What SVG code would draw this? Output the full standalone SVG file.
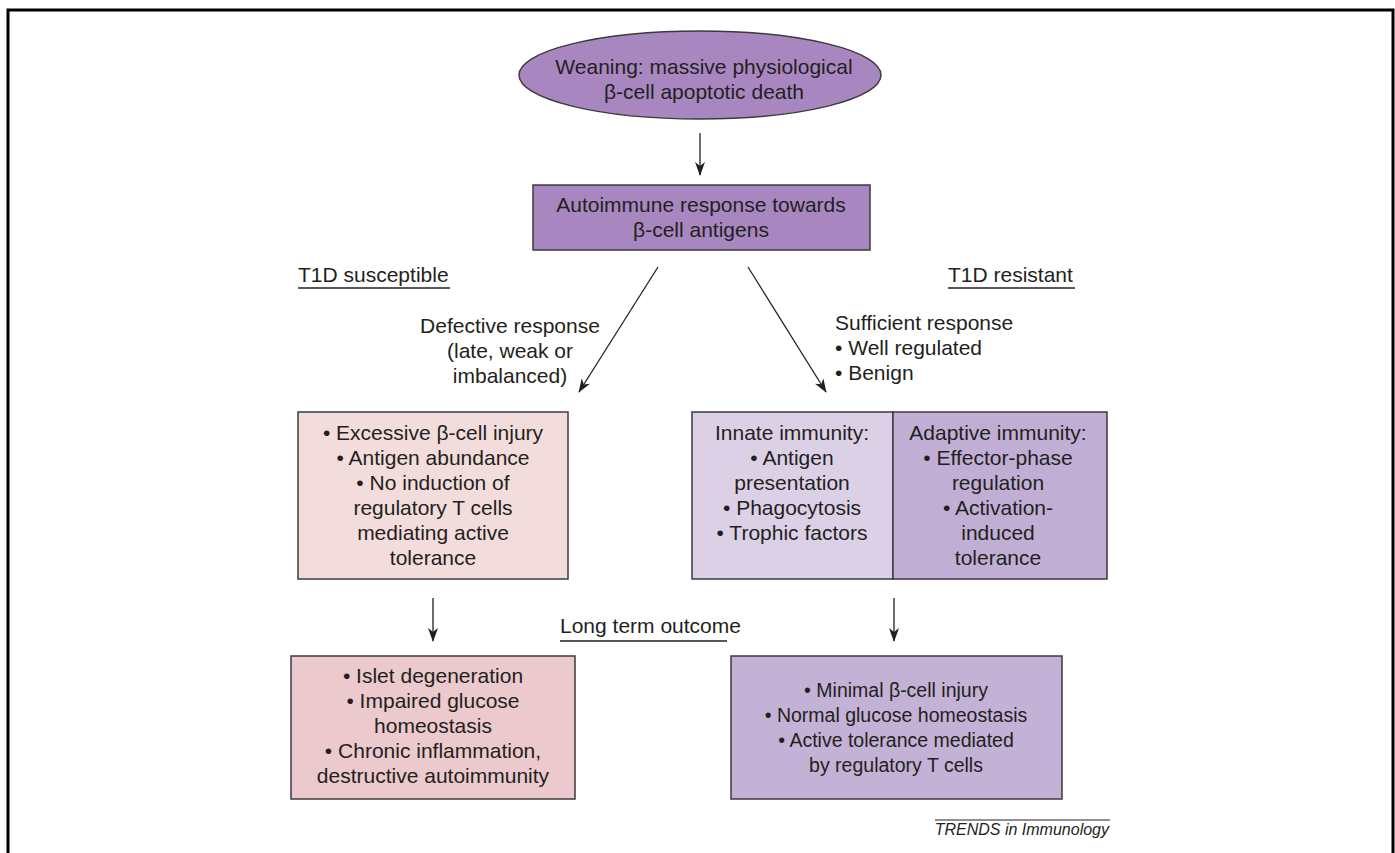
<svg xmlns="http://www.w3.org/2000/svg" width="1395" height="853" viewBox="0 0 1395 853">
<defs>
<style>
text{font-family:"Liberation Sans",Arial,sans-serif;font-size:21px;fill:#231f20}
.c{text-anchor:middle}
.n{font-size:19.5px}
.box{stroke:#3d3a3e;stroke-width:1.5}
.conn{stroke:#231f20;stroke-width:1.3;fill:none;marker-end:url(#ah)}
.ul{stroke:#231f20;stroke-width:1.3}
</style>
<marker id="ah" viewBox="0 0 14 10" refX="13" refY="5" markerWidth="14" markerHeight="10" markerUnits="userSpaceOnUse" orient="auto">
<path d="M0,0 L14,5 L0,10 L4,5 z" fill="#231f20"/>
</marker>
</defs>
<rect x="8" y="10" width="1385" height="900" fill="#fff" stroke="#000" stroke-width="3"/>

<g id="node-weaning">
<ellipse class="box" cx="700" cy="75" rx="181" ry="44" fill="#a887c0"/>
<text class="c" x="704" y="74">Weaning: massive physiological</text>
<text class="c" x="704" y="99">β-cell apoptotic death</text>
</g>

<g id="node-autoimmune">
<rect class="box" x="533" y="185" width="337" height="65" fill="#a887c0"/>
<text class="c" x="701" y="212">Autoimmune response towards</text>
<text class="c" x="701" y="237">β-cell antigens</text>
</g>

<g id="label-susceptible">
<text x="298" y="282">T1D susceptible</text>
<line class="ul" x1="298" y1="288" x2="450" y2="288"/>
</g>
<g id="label-resistant">
<text x="948" y="282">T1D resistant</text>
<line class="ul" x1="948" y1="288" x2="1075" y2="288"/>
</g>

<g id="label-defective">
<text class="c" x="510" y="333">Defective response</text>
<text class="c" x="510" y="358">(late, weak or</text>
<text class="c" x="510" y="383">imbalanced)</text>
</g>
<g id="label-sufficient">
<text x="835" y="330">Sufficient response</text>
<text x="835" y="355">• Well regulated</text>
<text x="835" y="380">• Benign</text>
</g>

<g id="node-susceptible">
<rect class="box" x="298" y="412" width="270" height="167" fill="#f3dcdc"/>
<text class="c" x="433" y="440">• Excessive β-cell injury</text>
<text class="c" x="433" y="465">• Antigen abundance</text>
<text class="c" x="433" y="490">• No induction of</text>
<text class="c" x="433" y="515">regulatory T cells</text>
<text class="c" x="433" y="540">mediating active</text>
<text class="c" x="433" y="565">tolerance</text>
</g>

<g id="node-resistant">
<rect class="box" x="692" y="412" width="201" height="167" fill="#dcd0e7"/>
<rect class="box" x="893" y="412" width="214" height="167" fill="#c1aed4"/>
<text class="c" x="792" y="440">Innate immunity:</text>
<text class="c" x="792" y="465">• Antigen</text>
<text class="c" x="792" y="490">presentation</text>
<text class="c" x="792" y="515">• Phagocytosis</text>
<text class="c" x="792" y="540">• Trophic factors</text>
<text class="c" x="998" y="440">Adaptive immunity:</text>
<text class="c" x="998" y="465">• Effector-phase</text>
<text class="c" x="998" y="490">regulation</text>
<text class="c" x="998" y="515">• Activation-</text>
<text class="c" x="998" y="540">induced</text>
<text class="c" x="998" y="565">tolerance</text>
</g>

<g id="label-longterm">
<text x="560" y="633">Long term outcome</text>
<line class="ul" x1="560" y1="641" x2="727" y2="641"/>
</g>

<g id="node-outcome-bad">
<rect class="box" x="291" y="656" width="284" height="143" fill="#ecc9cd"/>
<text class="c" x="433" y="683">• Islet degeneration</text>
<text class="c" x="433" y="708">• Impaired glucose</text>
<text class="c" x="433" y="733">homeostasis</text>
<text class="c" x="433" y="758">• Chronic inflammation,</text>
<text class="c" x="433" y="783">destructive autoimmunity</text>
</g>

<g id="node-outcome-good">
<rect class="box" x="731" y="656" width="331" height="143" fill="#c4b1d6"/>
<text class="c n" x="896" y="697">• Minimal β-cell injury</text>
<text class="c n" x="896" y="722">• Normal glucose homeostasis</text>
<text class="c n" x="896" y="747">• Active tolerance mediated</text>
<text class="c n" x="896" y="772">by regulatory T cells</text>
</g>

<g id="connectors">
<line class="conn" x1="700" y1="133" x2="700" y2="175"/>
<line class="conn" x1="658" y1="267" x2="579" y2="392"/>
<line class="conn" x1="748" y1="267" x2="826" y2="392"/>
<line class="conn" x1="433" y1="598" x2="433" y2="641"/>
<line class="conn" x1="894" y1="598" x2="894" y2="641"/>
</g>

<g id="credit">
<line x1="935" y1="820" x2="1110" y2="820" stroke="#231f20" stroke-width="1"/>
<text x="1109" y="835" text-anchor="end" font-style="italic" style="font-size:16px">TRENDS in Immunology</text>
</g>
</svg>
